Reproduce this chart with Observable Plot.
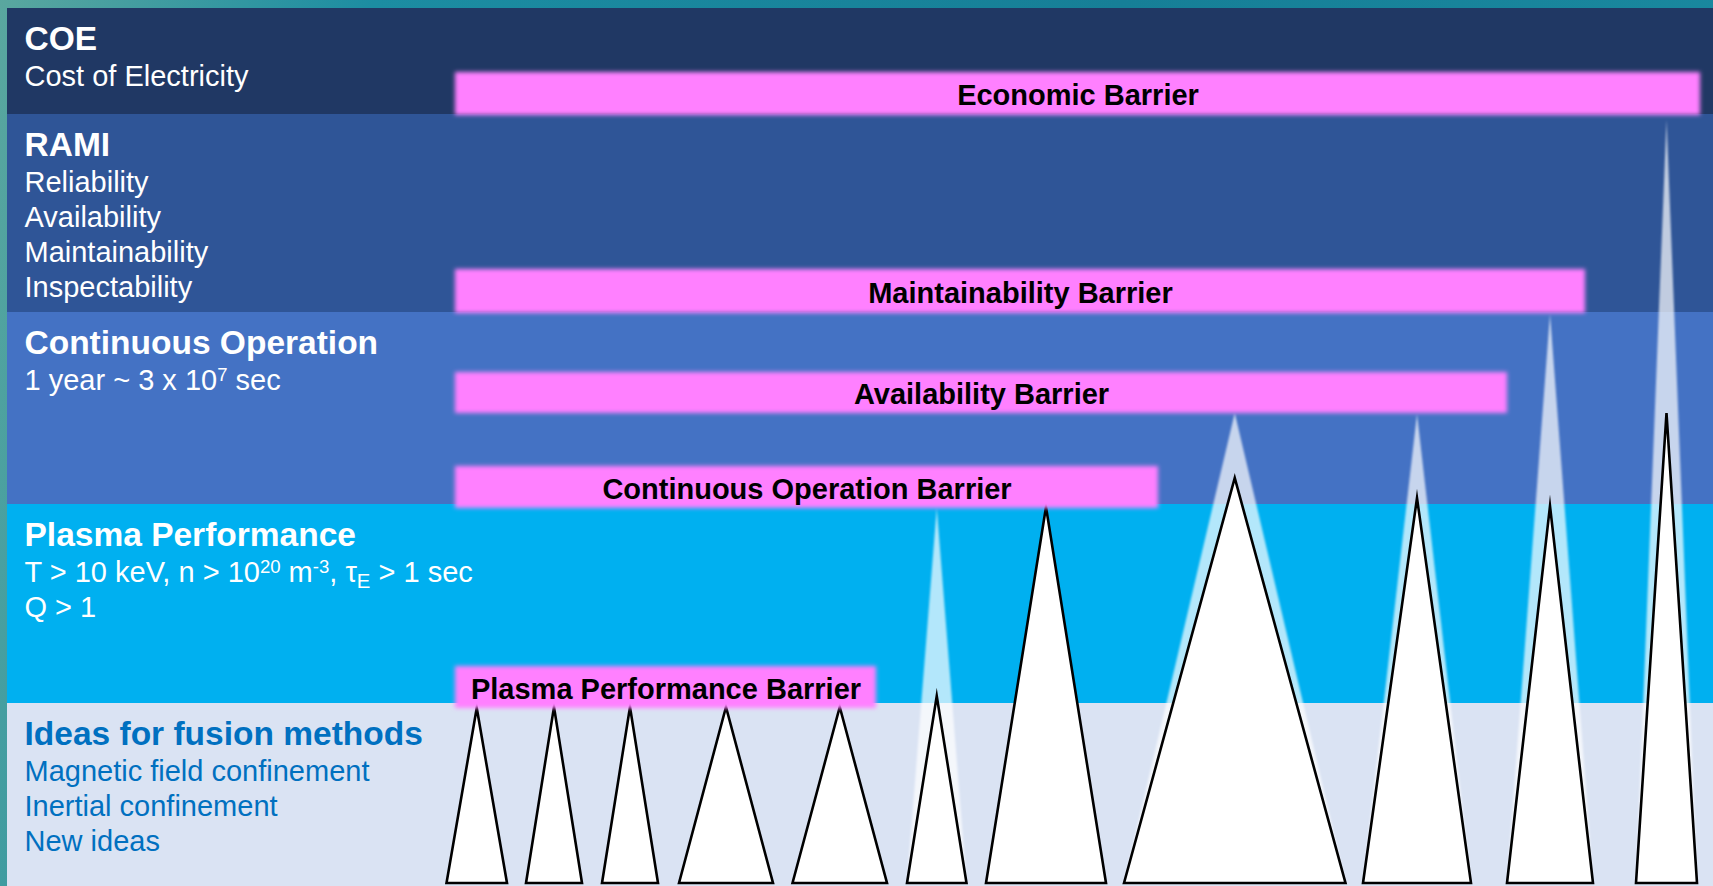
<!DOCTYPE html>
<html>
<head>
<meta charset="utf-8">
<script src="https://cdn.jsdelivr.net/npm/d3@7"></script>
<script src="https://cdn.jsdelivr.net/npm/@observablehq/plot@0.6"></script>
<style>
  html, body { margin: 0; padding: 0; overflow: hidden; }
  body { width: 1713px; height: 886px; background: linear-gradient(100deg, #5aa79f 0%, #1c8da2 20%, #167f97 60%, #1a8aa0 100%); }
  #chart svg { display: block; }
</style>
</head>
<body>
<div id="chart"></div>
<script>
// ---- Levels: height above the bottom edge of the picture ----
const bandNames = ["COE", "RAMI", "Continuous Operation", "Plasma Performance", "Ideas for fusion methods"];
const bandDetails = [
  ["Cost of Electricity"],
  ["Reliability", "Availability", "Maintainability", "Inspectability"],
  ["1 year ~ 3 x 10{^7} sec"],
  ["T > 10 keV, n > 10{^20} m{^-3}, τ{_E} > 1 sec", "Q > 1"],
  ["Magnetic field confinement", "Inertial confinement", "New ideas"]
];
const bandTop = [878, 772, 574, 382, 183];
const bandBottom = [772, 574, 382, 183, 0];
const panelLeft = 7, panelRight = 1713;

const barrierNames = ["Economic Barrier", "Maintainability Barrier", "Availability Barrier", "Continuous Operation Barrier", "Plasma Performance Barrier"];
const barrierStart = [455, 455, 455, 455, 455];
const barrierEnd = [1700, 1585, 1507, 1158, 876];
const barrierTop = [814, 617, 514, 420, 220];
const barrierBottom = [771, 573, 473, 378, 178];

// fusion concepts (triangles): base extent, reached level, potential level
const conceptLeft = [446.5, 526, 602, 679, 792.5, 907, 986, 1124, 1363, 1507, 1636];
const conceptRight = [507, 582, 658, 773, 887, 966.5, 1106, 1345.5, 1471, 1593, 1697];
const conceptReach = [178, 179, 179, 179, 179, 190, 379, 408, 388, 380, 473];
const conceptPotential = [null, null, null, null, null, 378, null, 473, 472, 572, 766];
const conceptBase = 3;

// ---- styles ----
const bandColors = ["#203864", "#2f5597", "#4472c4", "#00b0f0", "#dae3f3"];
const bandTextColors = ["#ffffff", "#ffffff", "#ffffff", "#ffffff", "#0070c0"];
const barrierColor = "#ff80ff";
const font = "'Liberation Sans', Arial, Helvetica, sans-serif";
const textLeft = 24;

// ---- derived tables ----
const bands = bandNames.map((name, i) => ({name, top: bandTop[i], bottom: bandBottom[i], fill: bandColors[i], x1: panelLeft, x2: panelRight}));
const headers = bandNames.map((name, i) => ({text: name, x: textLeft, y: bandTop[i] - 41, color: bandTextColors[i]}));
const details = bandDetails.flatMap((lines, i) => lines.map((t, j) => ({text: t, x: textLeft, y: bandTop[i] - 77 - 35 * j, color: bandTextColors[i]})));
const barriers = barrierNames.map((name, i) => ({name, start: barrierStart[i], end: barrierEnd[i], top: barrierTop[i], bottom: barrierBottom[i]}));
const tri = (i, apex) => [
  {id: i, x: conceptLeft[i], y: conceptBase},
  {id: i, x: (conceptLeft[i] + conceptRight[i]) / 2, y: apex},
  {id: i, x: conceptRight[i], y: conceptBase}
];
const concepts = conceptReach.flatMap((r, i) => tri(i, r));
const potentials = conceptPotential.flatMap((p, i) => p == null ? [] : tri(i, p));

const svg = Plot.plot({
  width: 1713,
  height: 886,
  margin: 0,
  x: {domain: [0, 1713], axis: null},
  y: {domain: [0, 886], axis: null},
  color: {type: "identity"},
  style: {background: "transparent"},
  marks: [
    Plot.rect(bands, {x1: "x1", x2: "x2", y1: "bottom", y2: "top", fill: "fill"}),
    Plot.areaY(potentials, {x: "x", y1: conceptBase, y2: "y", z: "id", fill: "white", fillOpacity: 0.7}),
    Plot.areaY(concepts, {x: "x", y1: conceptBase, y2: "y", z: "id", fill: "white", stroke: "black", strokeWidth: 2.6, strokeLinejoin: "miter", strokeMiterlimit: 12}),
    Plot.rect(barriers, {x1: "start", x2: "end", y1: "bottom", y2: "top", fill: barrierColor}),
    Plot.text(barriers, {x: d => (d.start + d.end) / 2, y: d => (d.top + d.bottom) / 2, dy: 2, text: "name", fill: "black", fontFamily: font, fontSize: 29, fontWeight: "bold", lineAnchor: "middle", textAnchor: "middle"}),
    Plot.text(headers, {x: "x", y: "y", text: "text", fill: "color", fontFamily: font, fontSize: 33.5, fontWeight: "bold", lineAnchor: "bottom", textAnchor: "start"}),
    Plot.text(details, {x: "x", y: "y", text: "text", fill: "color", fontFamily: font, fontSize: 29, lineAnchor: "bottom", textAnchor: "start"})
  ]
});

// soft edges on the barrier bands and the potential glows
const s = d3.select(svg);
const defs = s.insert("defs", ":first-child");
defs.append("filter").attr("id", "soft").attr("x", "-5%").attr("y", "-40%").attr("width", "110%").attr("height", "180%")
  .append("feGaussianBlur").attr("stdDeviation", 2.2);
defs.append("filter").attr("id", "softer").attr("x", "-10%").attr("y", "-5%").attr("width", "120%").attr("height", "110%")
  .append("feGaussianBlur").attr("stdDeviation", 1);
s.selectAll(`g[fill="${barrierColor}"]`).attr("filter", "url(#soft)");
s.selectAll(`g[fill-opacity="0.7"]`).attr("filter", "url(#softer)");

// superscripts / subscripts written as {^..} and {_..}
s.selectAll("text").each(function () {
  const str = this.textContent;
  if (!/\{[\^_]/.test(str)) return;
  const fs = parseFloat(getComputedStyle(this).fontSize) || 29;
  const parts = str.split(/(\{[\^_][^}]*\})/);
  this.textContent = "";
  for (const p of parts) {
    if (!p) continue;
    const m = p.match(/^\{([\^_])(.*)\}$/);
    const t = document.createElementNS("http://www.w3.org/2000/svg", "tspan");
    if (m) {
      t.textContent = m[2];
      t.setAttribute("font-size", (fs * (m[1] === "^" ? 0.64 : 0.7)) + "px");
      t.setAttribute("baseline-shift", (m[1] === "^" ? fs * 0.3 : -fs * 0.2) + "px");
    } else {
      t.textContent = p;
    }
    this.appendChild(t);
  }
});

document.getElementById("chart").appendChild(svg);
</script>
</body>
</html>
